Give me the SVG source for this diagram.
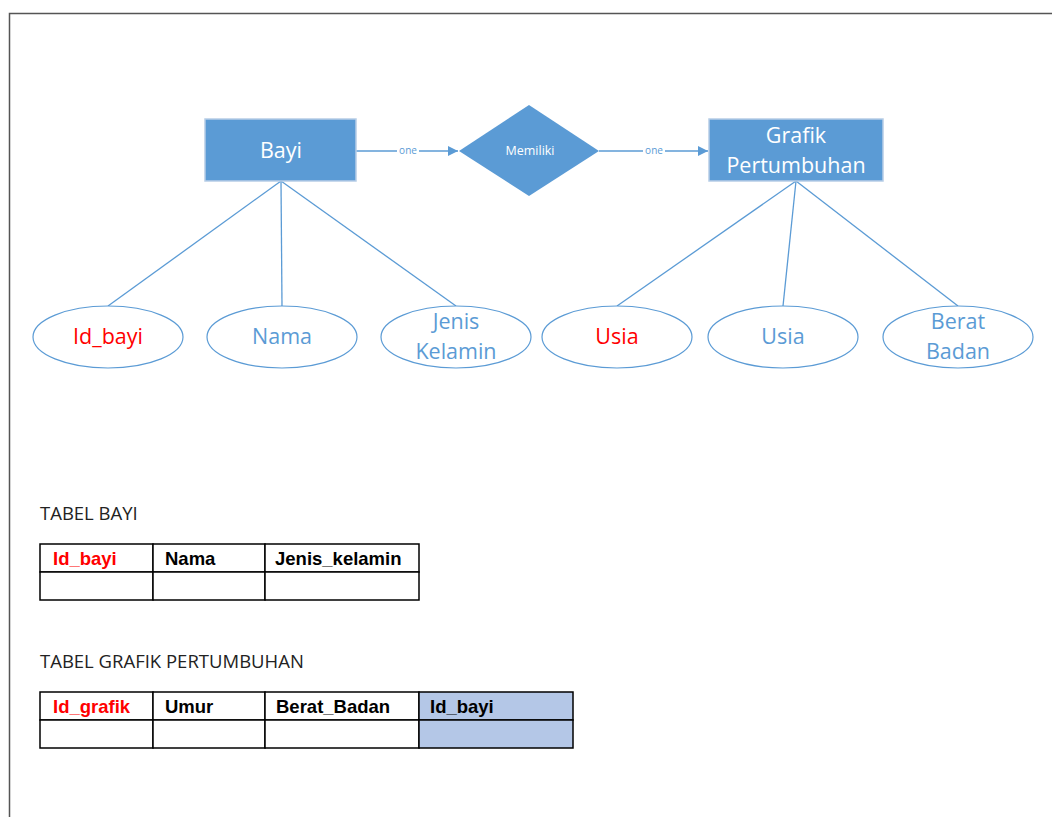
<svg xmlns="http://www.w3.org/2000/svg" width="1052" height="817" viewBox="0 0 1052 817">
  <style>
    .ent { fill: #5b9bd5; stroke: #b7cde6; stroke-width: 1.5; }
    .ent-t { font-family: "Open Sans", "Liberation Sans", sans-serif; font-size: 21.5px; fill: #ffffff; text-anchor: middle; }
    .rel-t { font-family: "Open Sans", "Liberation Sans", sans-serif; font-size: 12.5px; fill: #ffffff; text-anchor: middle; }
    .attr { fill: #ffffff; stroke: #5b9bd5; stroke-width: 1.2; }
    .attr-t { font-family: "Open Sans", "Liberation Sans", sans-serif; font-size: 21.5px; fill: #5b9bd5; text-anchor: middle; }
    .key { fill: #ff0000; }
    .link { stroke: #5b9bd5; stroke-width: 1.3; fill: none; }
    .lbl { font-family: "Open Sans", "Liberation Sans", sans-serif; font-size: 10px; fill: #5b9bd5; text-anchor: middle; }
    .cap { font-family: "Open Sans", "Liberation Sans", sans-serif; font-size: 18.5px; fill: #222222; }
    .cell { fill: #ffffff; stroke: #000000; stroke-width: 1.5; }
    .fk { fill: #b4c7e7; }
    .th { font-family: "Liberation Sans", sans-serif; font-size: 18.5px; font-weight: bold; fill: #000000; }
  </style>
  <defs>
    <marker id="arrow" viewBox="0 0 10 10" refX="10" refY="5" markerWidth="10" markerHeight="10" markerUnits="userSpaceOnUse" orient="auto">
      <path d="M0,0 L10,5 L0,10 z" fill="#5b9bd5"/>
    </marker>
  </defs>

  <rect width="1052" height="817" fill="#ffffff"/>
  <!-- page frame -->
  <path d="M9.5,817 L9.5,13.5 L1052,13.5" fill="none" stroke="#555555" stroke-width="1.5"/>

  <!-- connectors -->
  <g id="connectors">
    <line class="link" x1="356" y1="151" x2="458" y2="151" marker-end="url(#arrow)"/>
    <rect x="397" y="146" width="22" height="10" fill="#ffffff"/>
    <text class="lbl" x="408" y="154">one</text>
    <line class="link" x1="599" y1="151" x2="708" y2="151" marker-end="url(#arrow)"/>
    <rect x="643" y="146" width="22" height="10" fill="#ffffff"/>
    <text class="lbl" x="654" y="154">one</text>

    <line class="link" x1="281" y1="181" x2="108" y2="306"/>
    <line class="link" x1="281" y1="181" x2="282" y2="306"/>
    <line class="link" x1="281" y1="181" x2="456" y2="306"/>
    <line class="link" x1="796" y1="181" x2="617" y2="306"/>
    <line class="link" x1="796" y1="181" x2="783" y2="306"/>
    <line class="link" x1="796" y1="181" x2="958" y2="306"/>
  </g>

  <!-- entities -->
  <g id="bayi">
    <rect class="ent" x="205" y="119" width="151" height="62"/>
    <text class="ent-t" x="281" y="158">Bayi</text>
  </g>
  <g id="memiliki">
    <polygon points="529,105 599,151 529,196 459,151" fill="#5b9bd5"/>
    <text class="rel-t" x="530" y="155">Memiliki</text>
  </g>
  <g id="grafik">
    <rect class="ent" x="709" y="119" width="174" height="62"/>
    <text class="ent-t" x="796" y="143">Grafik</text>
    <text class="ent-t" x="796" y="173">Pertumbuhan</text>
  </g>

  <!-- attributes -->
  <g id="attr-id-bayi">
    <ellipse class="attr" cx="108" cy="337" rx="75" ry="31"/>
    <text class="attr-t key" x="108" y="344">Id_bayi</text>
  </g>
  <g id="attr-nama">
    <ellipse class="attr" cx="282" cy="337" rx="75" ry="31"/>
    <text class="attr-t" x="282" y="344">Nama</text>
  </g>
  <g id="attr-jenis-kelamin">
    <ellipse class="attr" cx="456" cy="337" rx="75" ry="31"/>
    <text class="attr-t" x="456" y="329">Jenis</text>
    <text class="attr-t" x="456" y="359">Kelamin</text>
  </g>
  <g id="attr-usia-key">
    <ellipse class="attr" cx="617" cy="337" rx="75" ry="31"/>
    <text class="attr-t key" x="617" y="344">Usia</text>
  </g>
  <g id="attr-usia">
    <ellipse class="attr" cx="783" cy="337" rx="75" ry="31"/>
    <text class="attr-t" x="783" y="344">Usia</text>
  </g>
  <g id="attr-berat-badan">
    <ellipse class="attr" cx="958" cy="337" rx="75" ry="31"/>
    <text class="attr-t" x="958" y="329">Berat</text>
    <text class="attr-t" x="958" y="359">Badan</text>
  </g>

  <!-- table: bayi -->
  <g id="tabel-bayi">
    <text class="cap" x="40" y="520">TABEL BAYI</text>
    <rect class="cell" x="40" y="544" width="113" height="28"/>
    <rect class="cell" x="153" y="544" width="112" height="28"/>
    <rect class="cell" x="265" y="544" width="154" height="28"/>
    <rect class="cell" x="40" y="572" width="113" height="28"/>
    <rect class="cell" x="153" y="572" width="112" height="28"/>
    <rect class="cell" x="265" y="572" width="154" height="28"/>
    <text class="th" x="53" y="565" style="fill:#ff0000">Id_bayi</text>
    <text class="th" x="165" y="565">Nama</text>
    <text class="th" x="275" y="565">Jenis_kelamin</text>
  </g>

  <!-- table: grafik pertumbuhan -->
  <g id="tabel-grafik">
    <text class="cap" x="40" y="668">TABEL GRAFIK PERTUMBUHAN</text>
    <rect class="cell" x="40" y="692" width="113" height="28"/>
    <rect class="cell" x="153" y="692" width="112" height="28"/>
    <rect class="cell" x="265" y="692" width="154" height="28"/>
    <rect class="cell fk" x="419" y="692" width="154" height="28"/>
    <rect class="cell" x="40" y="720" width="113" height="28"/>
    <rect class="cell" x="153" y="720" width="112" height="28"/>
    <rect class="cell" x="265" y="720" width="154" height="28"/>
    <rect class="cell fk" x="419" y="720" width="154" height="28"/>
    <text class="th" x="53" y="713" style="fill:#ff0000">Id_grafik</text>
    <text class="th" x="165" y="713">Umur</text>
    <text class="th" x="276" y="713">Berat_Badan</text>
    <text class="th" x="430" y="713">Id_bayi</text>
  </g>
</svg>
